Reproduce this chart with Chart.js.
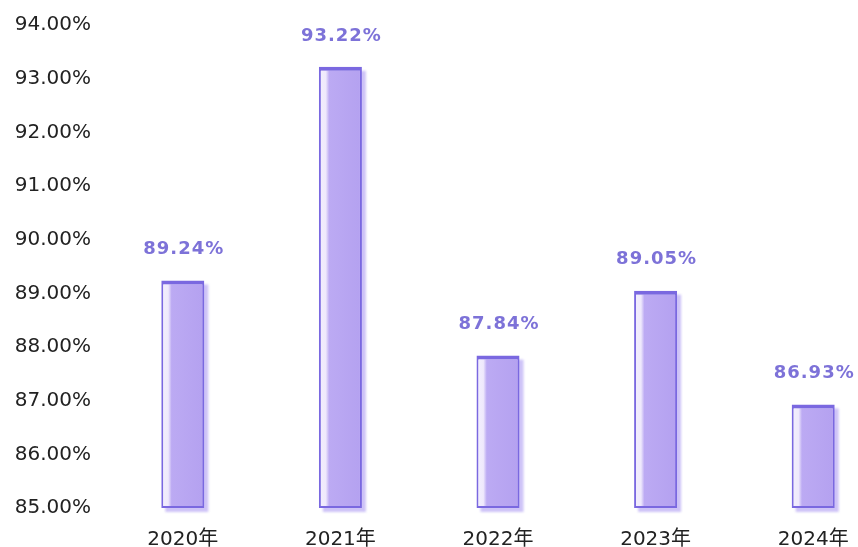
<!DOCTYPE html>
<html>
<head>
<meta charset="utf-8">
<script src="https://cdn.jsdelivr.net/npm/chart.js@4/dist/chart.umd.min.js"></script>
<style>
  html, body { margin: 0; padding: 0; background: #fff; overflow: hidden; }
  #wrap { width: 892px; height: 547px; }
</style>
</head>
<body>
<div id="wrap"><canvas id="grafico" width="892" height="547"></canvas></div>
<script>
const years = ['2020年', '2021年', '2022年', '2023年', '2024年'];
const rates = [89.24, 93.22, 87.84, 89.05, 86.93];
const yMin = 85;
const yMax = 94;

const FONT = '"DejaVu Sans", "Noto Sans CJK SC", sans-serif';
const BAR_PCT = 0.273;

// soft purple shadow offset behind each bar
const barShadow = {
    id: 'barShadow',
    beforeDatasetsDraw(chart) {
        const c = chart.ctx;
        const meta = chart.getDatasetMeta(0);
        c.save();
        c.fillStyle = 'rgba(165, 145, 240, 0.55)';
        c.filter = 'blur(1px)';
        meta.data.forEach((bar) => {
            const w = bar.width;
            c.fillRect(bar.x - w / 2 + 4, bar.y + 4, w, bar.base - bar.y);
        });
        c.restore();
    }
};

// value labels above each bar
const valueLabels = {
    id: 'valueLabels',
    afterDatasetsDraw(chart) {
        const c = chart.ctx;
        const meta = chart.getDatasetMeta(0);
        c.save();
        c.font = 'bold 18px ' + FONT;
        c.fillStyle = '#7d72d8';
        c.textAlign = 'center';
        c.textBaseline = 'middle';
        if ('letterSpacing' in c) c.letterSpacing = '1px';
        meta.data.forEach((bar, i) => {
            c.fillText(rates[i].toFixed(2) + '%', bar.x + 1, bar.y - 31);
        });
        c.restore();
    }
};

const fillFor = (context) => {
    const chart = context.chart;
    const xs = chart.scales && chart.scales.x;
    if (!chart.chartArea || !xs) return '#b8a5f2';
    const cx = xs.getPixelForValue(context.dataIndex);
    const w = (chart.chartArea.width / years.length) * BAR_PCT;
    if (!isFinite(cx) || !isFinite(w)) return '#b8a5f2';
    const g = chart.ctx.createLinearGradient(cx - w / 2, 0, cx + w / 2, 0);
    g.addColorStop(0, '#f3effd');
    g.addColorStop(0.16, '#efe9fc');
    g.addColorStop(0.24, '#bcaaf3');
    g.addColorStop(1, '#b4a1f0');
    return g;
};

const ctx = document.getElementById('grafico').getContext('2d');

new Chart(ctx, {
    type: 'bar',
    data: {
        labels: years,
        datasets: [{
            data: rates,
            base: yMin,
            backgroundColor: fillFor,
            borderColor: '#7a68e0',
            borderWidth: { top: 4, left: 2, right: 2, bottom: 2 },
            borderSkipped: false,
            categoryPercentage: 1,
            barPercentage: BAR_PCT
        }]
    },
    options: {
        responsive: false,
        animation: false,
        layout: { padding: { top: 22, left: 10, right: 0, bottom: 0 } },
        plugins: {
            legend: { display: false },
            tooltip: { enabled: false }
        },
        scales: {
            x: {
                grid: { display: false, drawTicks: false },
                border: { display: false },
                ticks: {
                    color: '#222',
                    font: { family: FONT, size: 20 },
                    padding: 20,
                    maxRotation: 0
                },
                afterFit: (scale) => { scale.height = 39; }
            },
            y: {
                min: yMin,
                max: yMax,
                grid: { display: false, drawTicks: false },
                border: { display: false },
                ticks: {
                    stepSize: 1,
                    color: '#222',
                    font: { family: FONT, size: 20 },
                    padding: 13,
                    callback: (v) => Number(v).toFixed(2) + '%'
                },
                afterFit: (scale) => { scale.width = 94; }
            }
        }
    },
    plugins: [barShadow, valueLabels]
});
</script>
</body>
</html>
